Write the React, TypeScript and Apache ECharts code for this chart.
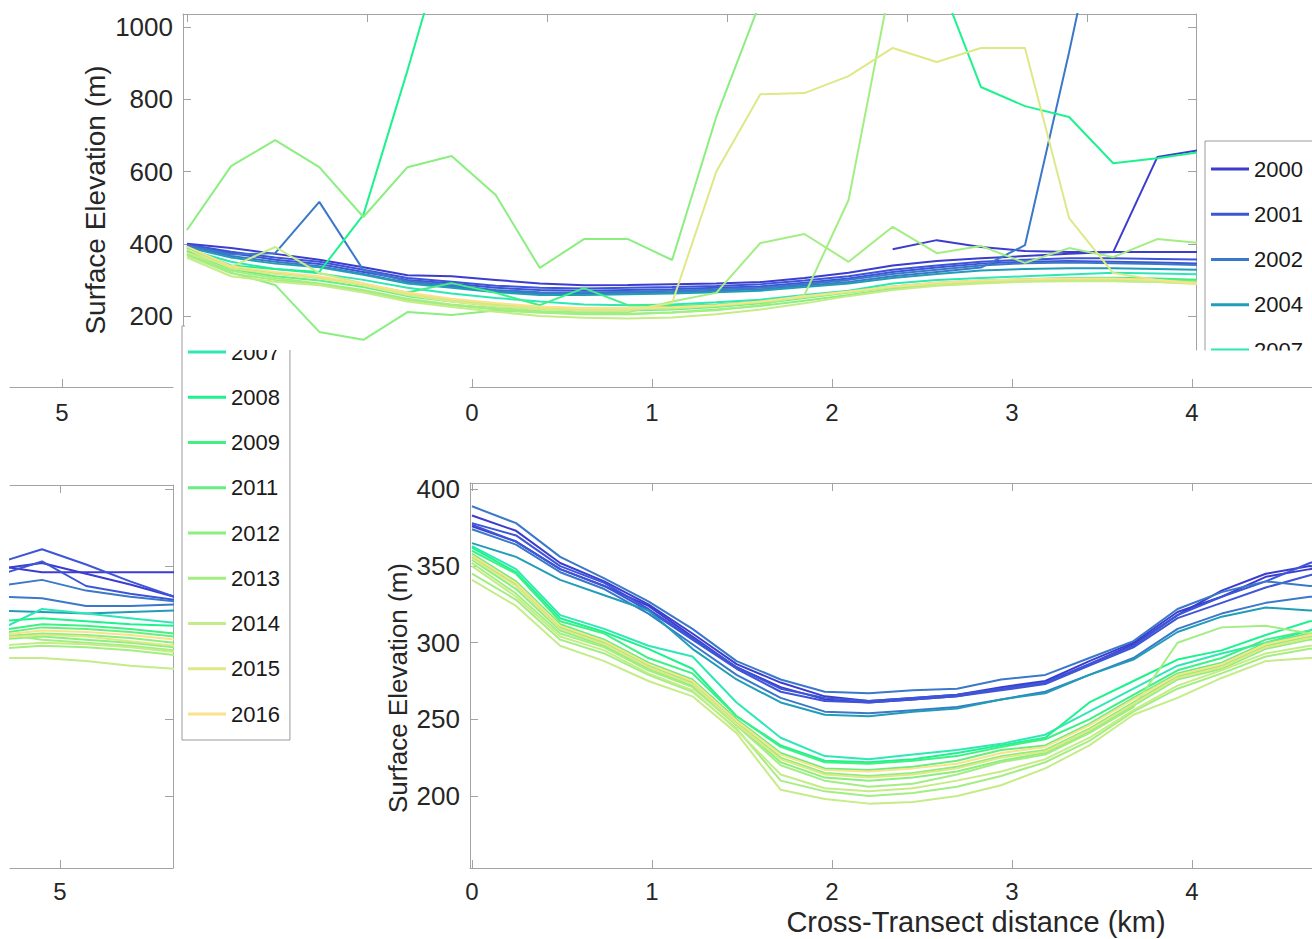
import React, { useEffect, useRef } from "react";
import * as echarts from "echarts";

// Cross-transect distance (km) of each sample point
const DIST = [0, 0.245, 0.49, 0.735, 0.98, 1.225, 1.47, 1.715, 1.96, 2.205, 2.45, 2.695, 2.94, 3.185, 3.43, 3.675, 3.92, 4.165, 4.41, 4.655, 4.9, 5.145, 5.39, 5.635];

// one entry per plotted profile (several profiles per year)
const LINE_YEARS = ["2000", "2000", "2001", "2001", "2002", "2002", "2004", "2007", "2008", "2009", "2011", "2012", "2012", "2013", "2013", "2014", "2014", "2015", "2016"];

const LEGEND_A = ["2000", "2001", "2002", "2004", "2007"];
const LEGEND_B = ["2007", "2008", "2009", "2011", "2012", "2013", "2014", "2015", "2016"];

const YEAR_COLORS: Record<string, string> = {
  "2000": "#3c3ccf",
  "2001": "#3d55d6",
  "2002": "#3a78c9",
  "2004": "#229db8",
  "2007": "#2fe7b5",
  "2008": "#1df28e",
  "2009": "#3ff085",
  "2011": "#66ef7f",
  "2012": "#8aef7f",
  "2013": "#a3ee82",
  "2014": "#c5ec87",
  "2015": "#dfe887",
  "2016": "#fbe18a",
};

// upper transect (m)
const TOP_2000A = [400, 388, 372, 356, 335, 313, 310, 300, 290, 285, 286, 288, 290, 294, 305, 320, 340, 352, 360, 366, 372, 377, 640, 660];
const TOP_2000B = [null, null, null, null, null, null, null, null, null, null, null, null, null, null, null, null, 385, 410, 391, 380, 377, 377, 377, 377];
const TOP_2001A = [398, 378, 362, 350, 328, 305, 295, 284, 278, 276, 278, 280, 283, 288, 298, 310, 328, 340, 350, 356, 360, 360, 358, 356];
const TOP_2001B = [396, 374, 356, 344, 322, 300, 290, 278, 272, 270, 272, 274, 278, 282, 292, 304, 322, 334, 345, 350, 352, 350, 348, 345];
const TOP_2002A = [395, 370, 374, 516, 327, 296, 285, 272, 266, 265, 267, 270, 274, 278, 288, 300, 316, 328, 340, 346, 348, 346, 344, 341];
const TOP_2002B = [393, 366, 350, 338, 316, 292, 281, 268, 262, 262, 264, 266, 270, 274, 284, 294, 310, 322, 334, 396, 930, 1500, 1500, 1500];
const TOP_2004 = [390, 362, 345, 335, 314, 290, 278, 266, 258, 258, 260, 262, 266, 270, 280, 290, 305, 316, 326, 330, 332, 332, 330, 328];
const TOP_2007 = [385, 350, 330, 318, 300, 278, 262, 250, 240, 232, 230, 232, 238, 245, 258, 270, 290, 300, 305, 310, 315, 320, 318, 315];
const TOP_2008 = [388, 340, 330, 322, 480, 880, 1300, 1500, 1500, 1500, 1500, 1500, 1500, 1500, 1500, 1500, 1500, 1150, 834, 781, 751, 623, 637, 654];
const TOP_2009 = [380, 335, 318, 305, 288, 265, 291, 264, 230, 277, 230, 228, 232, 240, 255, 268, 282, 292, 298, 302, 305, 306, 304, 300];
const TOP_2011 = [378, 330, 310, 298, 280, 255, 240, 228, 220, 215, 215, 218, 225, 235, 250, 265, 280, 290, 296, 300, 302, 302, 300, 296];
const TOP_2012A = [438, 615, 687, 612, 474, 612, 643, 535, 333, 413, 413, 355, 751, 1070, 1500, 1500, 1500, 1500, 1500, 1500, 1500, 1500, 1500, 1500];
const TOP_2012B = [370, 320, 286, 156, 134, 211, 203, 215, 210, 205, 205, 210, 218, 228, 242, 258, 275, 285, 292, 296, 298, 297, 295, 290];
const TOP_2013A = [372, 325, 305, 290, 272, 248, 232, 222, 214, 210, 210, 240, 264, 402, 427, 350, 447, 374, 394, 347, 388, 363, 413, 402];
const TOP_2013B = [368, 318, 300, 288, 268, 244, 230, 218, 210, 206, 206, 210, 216, 230, 258, 521, 1150, 1500, 1500, 1500, 1500, 1500, 1500, 1500];
const TOP_2014A = [375, 336, 391, 319, 290, 262, 244, 232, 222, 218, 218, 221, 228, 238, 252, 266, 280, 288, 294, 298, 300, 300, 298, 292];
const TOP_2014B = [362, 310, 295, 285, 265, 240, 225, 212, 200, 195, 193, 196, 205, 218, 235, 255, 272, 284, 290, 295, 296, 296, 294, 288];
const TOP_2015 = [385, 332, 316, 305, 285, 258, 240, 228, 220, 216, 216, 236, 599, 814, 817, 864, 942, 903, 942, 942, 471, 319, 300, 290];
const TOP_2016 = [392, 338, 322, 310, 290, 265, 248, 236, 226, 222, 222, 224, 230, 240, 255, 268, 282, 292, 298, 302, 304, 304, 300, 288];

// lower transect (m)
const LOW_2000A = [383, 373, 352, 340, 325, 306, 286, 274, 265, 262, 264, 266, 271, 275, 288, 300, 320, 330, 343, 348, 352, 345, 338, 330];
const LOW_2000B = [376, 366, 348, 337, 324, 304, 284, 271, 263, 261, 263, 265, 270, 274, 286, 299, 318, 334, 345, 350, 346, 346, 346, 346];
const LOW_2001A = [378, 370, 350, 339, 322, 303, 284, 270, 264, 262, 264, 266, 270, 274, 286, 298, 318, 330, 340, 352, 361, 351, 340, 330];
const LOW_2001B = [377, 366, 348, 337, 321, 302, 283, 268, 262, 261, 263, 265, 269, 273, 285, 297, 316, 326, 336, 344, 353, 337, 332, 328];
const LOW_2002A = [389, 378, 356, 342, 327, 309, 288, 276, 268, 267, 269, 270, 276, 279, 290, 301, 322, 333, 340, 337, 341, 334, 330, 327];
const LOW_2002B = [374, 364, 346, 335, 319, 299, 279, 264, 255, 254, 256, 258, 263, 268, 279, 290, 309, 319, 326, 330, 329, 324, 324, 325];
const LOW_2004 = [365, 356, 341, 331, 321, 296, 276, 261, 253, 252, 255, 257, 263, 267, 279, 289, 307, 317, 323, 321, 320, 319, 320, 321];
const LOW_2007 = [363, 348, 318, 309, 298, 291, 261, 238, 226, 224, 227, 230, 234, 240, 255, 270, 285, 293, 300, 308, 322, 319, 316, 313];
const LOW_2008 = [362, 346, 316, 307, 296, 283, 252, 233, 223, 222, 224, 228, 233, 238, 261, 275, 289, 295, 305, 314, 316, 314, 312, 311];
const LOW_2009 = [360, 345, 314, 306, 290, 280, 252, 232, 222, 221, 223, 226, 232, 237, 250, 266, 282, 290, 302, 308, 312, 311, 309, 306];
const LOW_2011 = [358, 340, 312, 302, 287, 276, 250, 228, 218, 217, 219, 223, 230, 233, 247, 264, 280, 287, 300, 306, 310, 309, 307, 304];
const LOW_2012A = [356, 338, 310, 300, 285, 274, 248, 225, 215, 213, 215, 219, 226, 230, 244, 261, 278, 285, 298, 304, 306, 305, 303, 300];
const LOW_2012B = [354, 335, 308, 298, 283, 272, 247, 222, 212, 210, 212, 216, 223, 228, 242, 259, 276, 283, 296, 302, 304, 302, 300, 297];
const LOW_2013A = [352, 332, 306, 297, 282, 271, 246, 220, 210, 206, 208, 214, 222, 227, 241, 258, 300, 310, 311, 306, 302, 300, 298, 295];
const LOW_2013B = [345, 328, 302, 293, 279, 268, 244, 210, 203, 200, 202, 206, 213, 222, 236, 255, 270, 280, 291, 296, 298, 297, 295, 292];
const LOW_2014A = [341, 324, 298, 288, 275, 265, 241, 204, 198, 195, 196, 200, 207, 218, 233, 253, 264, 277, 288, 290, 290, 288, 285, 283];
const LOW_2014B = [350, 330, 304, 295, 280, 269, 243, 214, 205, 203, 205, 210, 216, 224, 238, 256, 272, 282, 293, 298, 300, 299, 297, 294];
const LOW_2015 = [355, 337, 309, 299, 284, 273, 247, 224, 214, 212, 214, 218, 225, 229, 243, 260, 277, 284, 297, 303, 305, 304, 301, 298];
const LOW_2016 = [357, 339, 311, 301, 286, 275, 249, 227, 217, 216, 218, 221, 228, 232, 246, 263, 279, 286, 299, 305, 308, 307, 305, 302];

const TOP_PROFILES = [TOP_2000A, TOP_2000B, TOP_2001A, TOP_2001B, TOP_2002A, TOP_2002B, TOP_2004, TOP_2007, TOP_2008, TOP_2009, TOP_2011, TOP_2012A, TOP_2012B, TOP_2013A, TOP_2013B, TOP_2014A, TOP_2014B, TOP_2015, TOP_2016];
const LOW_PROFILES = [LOW_2000A, LOW_2000B, LOW_2001A, LOW_2001B, LOW_2002A, LOW_2002B, LOW_2004, LOW_2007, LOW_2008, LOW_2009, LOW_2011, LOW_2012A, LOW_2012B, LOW_2013A, LOW_2013B, LOW_2014A, LOW_2014B, LOW_2015, LOW_2016];

const TOP_Y_TICKS = [200, 400, 600, 800, 1000];
const LOW_Y_TICKS = [200, 250, 300, 350, 400];
const X_TICKS_MAIN = [0, 1, 2, 3, 4];
const X_TICKS_TAIL = [5];
const TOP_X_TICKS = [0, 1, 2, 3, 4, 5];

const FONT = '"Liberation Sans", Arial, Helvetica, sans-serif';
const AXIS_COLOR = "#a3a3a3";
const TEXT_COLOR = "#262626";

function xAxis(gridIndex: number, min: number, max: number, opts: any) {
  return {
    type: "value",
    gridIndex,
    min,
    max,
    position: opts.position || "bottom",
    axisLine: { show: true, onZero: false, lineStyle: { color: AXIS_COLOR, width: 1 } },
    axisTick: { show: true, inside: true, length: 8, lineStyle: { color: AXIS_COLOR }, customValues: opts.ticks },
    axisLabel: opts.labels
      ? { show: true, customValues: opts.labels, color: TEXT_COLOR, fontSize: 24, fontFamily: FONT, margin: opts.margin ?? 12, formatter: (v: number) => String(v) }
      : { show: false },
    splitLine: { show: false },
  };
}

function yAxis(gridIndex: number, min: number, max: number, opts: any) {
  return {
    type: "value",
    gridIndex,
    min,
    max,
    position: opts.position || "left",
    show: opts.show !== false,
    axisLine: { show: true, onZero: false, lineStyle: { color: AXIS_COLOR, width: 1 } },
    axisTick: { show: !!opts.ticks, inside: true, length: 8, lineStyle: { color: AXIS_COLOR }, customValues: opts.ticks },
    axisLabel: opts.labels
      ? { show: true, customValues: opts.labels, color: TEXT_COLOR, fontSize: 26, fontFamily: FONT, margin: 10, formatter: (v: number) => String(v) }
      : { show: false },
    splitLine: { show: false },
  };
}

function buildSeries(profiles: (number | null)[][], xAxisIndex: number, yAxisIndex: number) {
  return LINE_YEARS.map((yr, i) => ({
    type: "line",
    name: yr,
    xAxisIndex,
    yAxisIndex,
    data: DIST.map((d, j) => [d, profiles[i][j]]),
    symbol: "none",
    showSymbol: false,
    connectNulls: false,
    clip: true,
    lineStyle: { width: 2, color: YEAR_COLORS[yr] },
    itemStyle: { color: YEAR_COLORS[yr] },
    emphasis: { disabled: true },
    silent: true,
  }));
}

function legend(left: number, top: number, data: string[], padding: number[]) {
  return {
    orient: "vertical",
    left,
    top,
    data,
    icon: "rect",
    itemWidth: 38,
    itemHeight: 3,
    itemGap: 23.25,
    padding,
    borderColor: "#9a9a9a",
    borderWidth: 1,
    borderRadius: 0,
    backgroundColor: "#ffffff",
    selectedMode: false,
    textStyle: { fontSize: 22, lineHeight: 22, fontFamily: FONT, color: "#1a1a1a" },
  };
}

export default function App() {
  const ref = useRef<HTMLDivElement>(null);
  useEffect(() => {
    if (!ref.current) return;
    const chart = echarts.init(ref.current, undefined, { renderer: "svg" });
    const option: any = {
      animation: false,
      backgroundColor: "#ffffff",
      grid: [
        { left: 183, top: 14, width: 1013, height: 336 },
        { left: 470, top: 386, width: 842, height: 1 },
        { left: 10, top: 386, width: 163, height: 1 },
        { left: 470, top: 483, width: 842, height: 385 },
        { left: 10, top: 485, width: 163, height: 383 },
      ],
      xAxis: [
        xAxis(0, -0.022, 5.605, { position: "top", ticks: TOP_X_TICKS }),
        xAxis(1, -0.011, 4.667, { ticks: X_TICKS_MAIN, labels: X_TICKS_MAIN, margin: 13 }),
        xAxis(2, 4.711, 5.617, { ticks: X_TICKS_TAIL, labels: X_TICKS_TAIL, margin: 13 }),
        xAxis(3, -0.011, 4.667, { ticks: X_TICKS_MAIN, labels: X_TICKS_MAIN, margin: 11 }),
        xAxis(3, -0.011, 4.667, { position: "top", ticks: X_TICKS_MAIN }),
        xAxis(4, 4.722, 5.628, { ticks: X_TICKS_TAIL, labels: X_TICKS_TAIL, margin: 11 }),
        xAxis(4, 4.722, 5.628, { position: "top", ticks: X_TICKS_TAIL }),
      ],
      yAxis: [
        yAxis(0, 105.9, 1036, { ticks: TOP_Y_TICKS, labels: TOP_Y_TICKS }),
        yAxis(0, 105.9, 1036, { position: "right", ticks: TOP_Y_TICKS }),
        yAxis(1, 0, 1, { show: false }),
        yAxis(2, 0, 1, { show: false }),
        yAxis(3, 153, 404.2, { ticks: LOW_Y_TICKS, labels: LOW_Y_TICKS }),
        yAxis(4, 153, 402.9, { position: "right", ticks: LOW_Y_TICKS }),
      ],
      legend: [
        legend(1205, 141, LEGEND_A, [17, 10, 15, 6]),
        legend(182, 326, LEGEND_B, [15, 10, 15, 6]),
      ],
      series: [
        ...buildSeries(TOP_PROFILES, 0, 0),
        ...buildSeries(LOW_PROFILES, 3, 4),
        ...buildSeries(LOW_PROFILES, 5, 5),
      ],
      graphic: [
        { type: "rect", z: 100, shape: { x: 185, y: 318, width: 110, height: 32 }, style: { fill: "#ffffff" }, silent: true },
        { type: "rect", z: 100, shape: { x: 1198, y: 350.5, width: 114, height: 30 }, style: { fill: "#ffffff" }, silent: true },
        {
          type: "text", z: 100, x: 95, y: 200, rotation: Math.PI / 2,
          style: { text: "Surface Elevation (m)", fill: TEXT_COLOR, fontSize: 28, fontFamily: FONT, textAlign: "center", textVerticalAlign: "middle", verticalAlign: "middle" },
        },
        {
          type: "text", z: 100, x: 398, y: 688, rotation: Math.PI / 2,
          style: { text: "Surface Elevation (m)", fill: TEXT_COLOR, fontSize: 26, fontFamily: FONT, textAlign: "center", textVerticalAlign: "middle", verticalAlign: "middle" },
        },
        {
          type: "text", z: 100, x: 976, y: 922,
          style: { text: "Cross-Transect distance (km)", fill: TEXT_COLOR, fontSize: 29, fontFamily: FONT, textAlign: "center", textVerticalAlign: "middle", verticalAlign: "middle" },
        },
      ],
    };
    chart.setOption(option);
    return () => chart.dispose();
  }, []);
  return <div ref={ref} style={{ position: "fixed", left: 0, top: 0, width: 1312, height: 939 }} />;
}
